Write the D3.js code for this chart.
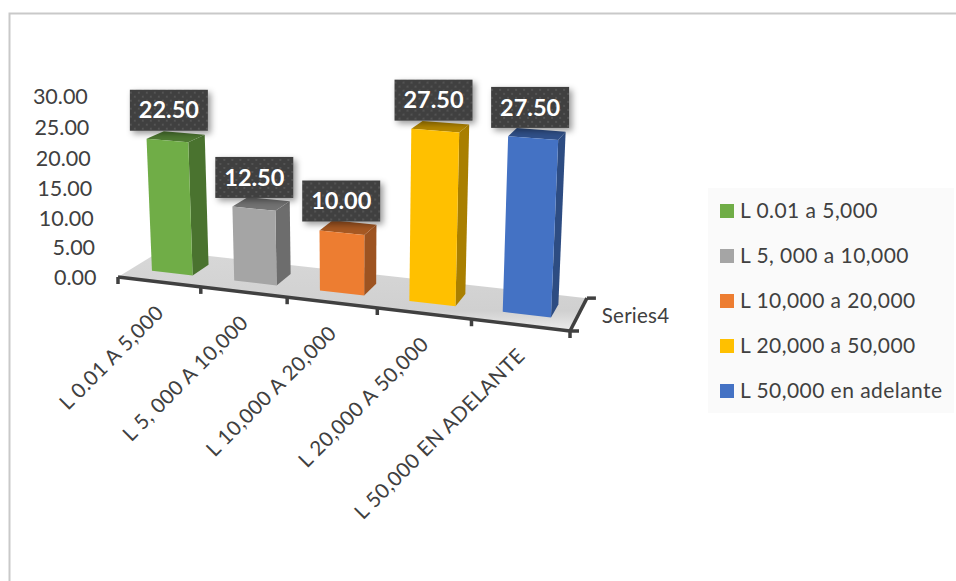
<!DOCTYPE html>
<html>
<head>
<meta charset="utf-8">
<script src="https://cdn.jsdelivr.net/npm/d3@7"></script>
<style>
  html, body { margin: 0; padding: 0; background: #fff; }
  svg { display: block; font-family: Lato, sans-serif; }
</style>
</head>
<body>
<div id="container"></div>
<script>
let w = 956;
let h = 581;

// chart data
let categories = ["L 0.01 A 5,000", "L 5, 000 A 10,000", "L 10,000 A 20,000", "L 20,000 A 50,000", "L 50,000 EN ADELANTE"];
let values = [22.5, 12.5, 10, 27.5, 27.5];
let legendLabels = ["L 0.01 a 5,000", "L 5, 000 a 10,000", "L 10,000 a 20,000", "L 20,000 a 50,000", "L 50,000 en adelante"];
let colors = ["#70AD47", "#A5A5A5", "#ED7D31", "#FFC000", "#4472C4"];
let yTicks = [0, 5, 10, 15, 20, 25, 30];
let seriesName = "Series4";

// scales work in "world" units: u along the front axis, v into the depth, z upwards
let uScale = d3.scaleBand().domain(categories).range([0, 1]).paddingInner(0.5).paddingOuter(0.25);
let zScale = d3.scaleLinear().domain([0, 30]).range([0, 1]);
let vFront = 0.31;
let vBack = 0.71;

// perspective camera, one column for each world direction
let camU = [393.3, 19.9, -0.103];
let camV = [53.5, -10, 0.0653];
let camZ = [-12.5, -183.5, -0.0354];
let camO = [118, 277, 1];

function project(u, v, z){
  let px = camO[0] + camU[0]*u + camV[0]*v + camZ[0]*z;
  let py = camO[1] + camU[1]*u + camV[1]*v + camZ[1]*z;
  let pw = camO[2] + camU[2]*u + camV[2]*v + camZ[2]*z;
  return [px/pw, py/pw];
}

let line = d3.line();
function poly(points){
  return line(points) + "Z";
}

let viz = d3.select("#container")
  .append("svg")
    .attr("width", w)
    .attr("height", h)
;

let defs = viz.append("defs");

let floorGrad = defs.append("linearGradient")
  .attr("id", "floorGrad")
  .attr("x1", 0).attr("y1", 0).attr("x2", 0).attr("y2", 1);
floorGrad.append("stop").attr("offset", "0").attr("stop-color", "#d8d8d8");
floorGrad.append("stop").attr("offset", "0.75").attr("stop-color", "#d0d0d0");
floorGrad.append("stop").attr("offset", "1").attr("stop-color", "#ececec");

let dots = defs.append("pattern")
  .attr("id", "dots")
  .attr("width", 8).attr("height", 8)
  .attr("patternUnits", "userSpaceOnUse");
dots.append("rect").attr("width", 8).attr("height", 8).attr("fill", "#404040");
dots.append("circle").attr("cx", 2).attr("cy", 2).attr("r", 0.9).attr("fill", "#5c5c5c");
dots.append("circle").attr("cx", 6).attr("cy", 6).attr("r", 0.9).attr("fill", "#5c5c5c");

let shadow = defs.append("filter")
  .attr("id", "shadow")
  .attr("x", "-20%").attr("y", "-20%").attr("width", "150%").attr("height", "150%");
shadow.append("feDropShadow")
  .attr("dx", 3).attr("dy", 3).attr("stdDeviation", 3)
  .attr("flood-color", "#000").attr("flood-opacity", 0.4);

// chart area border, only top and left show
viz.append("path")
  .attr("d", "M9.5,581V13.5H956")
  .attr("fill", "none")
  .attr("stroke", "#c9c9c9")
  .attr("stroke-width", 2);

// floor
viz.append("path")
  .attr("d", poly([project(0,0,0), project(1,0,0), project(1,1,0), project(0,1,0)]))
  .attr("fill", "url(#floorGrad)");

// axes
let axisColor = "#404040";
let axisGroup = viz.append("g")
  .attr("fill", "none")
  .attr("stroke", axisColor)
  .attr("stroke-width", 3.5);

axisGroup.append("path").attr("d", line([project(0,0,0), project(1,0,0)]));
axisGroup.append("path").attr("d", line([project(1,0,0), project(1,1,0)]));

let step = uScale.step();
d3.range(6).forEach(function(i){
  let p = project(i*step, 0, 0);
  axisGroup.append("path").attr("d", line([p, [p[0], p[1]+7]]));
});
[0, 1].forEach(function(v){
  let p = project(1, v, 0);
  axisGroup.append("path").attr("d", line([p, [p[0]+9, p[1]]]));
});

// y axis labels
viz.append("g").selectAll("text").data(yTicks).enter()
  .append("text")
    .text(function(d){ return d3.format(".2f")(d); })
    .attr("x", function(d){ return project(0, 0, zScale(d))[0] - 21.5; })
    .attr("y", function(d){ return project(0, 0, zScale(d))[1]; })
    .attr("dy", "0.35em")
    .attr("text-anchor", "end")
    .attr("font-size", 21.5)
    .attr("fill", "#404040");

// bars
let bars = viz.append("g").selectAll("g").data(categories).enter().append("g");

bars.each(function(d, i){
  let u0 = uScale(d);
  let u1 = u0 + uScale.bandwidth();
  let z = zScale(values[i]);
  let base = d3.rgb(colors[i]);
  let g = d3.select(this);

  // side
  g.append("path")
    .attr("d", poly([project(u1,vFront,0), project(u1,vBack,0), project(u1,vBack,z), project(u1,vFront,z)]))
    .attr("fill", base.darker(1.15));
  // top
  g.append("path")
    .attr("d", poly([project(u0,vFront,z), project(u1,vFront,z), project(u1,vBack,z), project(u0,vBack,z)]))
    .attr("fill", base.darker(1));
  // front
  g.append("path")
    .attr("d", poly([project(u0,vFront,0), project(u1,vFront,0), project(u1,vFront,z), project(u0,vFront,z)]))
    .attr("fill", base);
});

// category labels
viz.append("g").selectAll("text").data(categories).enter()
  .append("text")
    .text(function(d){ return d; })
    .attr("transform", function(d){
      let p = project(uScale(d) + uScale.bandwidth()/2, 0, 0);
      return "translate(" + (p[0]+1) + "," + (p[1]+27) + ") rotate(-45)";
    })
    .attr("dy", "0.35em")
    .attr("text-anchor", "end")
    .attr("font-size", 20.5)
    .attr("letter-spacing", 0.45)
    .attr("fill", "#404040");

// depth axis label
let seriesPos = project(1, 0.5, 0);
viz.append("text")
  .text(seriesName)
  .attr("x", seriesPos[0] + 23)
  .attr("y", seriesPos[1] + 2)
  .attr("dy", "0.35em")
  .attr("font-size", 20.5)
  .attr("letter-spacing", 0.25)
  .attr("fill", "#404040");

// data labels
let labelW = 78;
let labelH = 41;
let labels = viz.append("g").selectAll("g").data(categories).enter()
  .append("g")
    .attr("transform", function(d, i){
      let p = project(uScale(d) + uScale.bandwidth()/2, 0.51, zScale(values[i]));
      return "translate(" + (p[0]-7) + "," + (p[1]-6) + ")";
    });

labels.append("rect")
  .attr("x", -labelW/2)
  .attr("y", -labelH)
  .attr("width", labelW)
  .attr("height", labelH)
  .attr("fill", "url(#dots)")
  .attr("filter", "url(#shadow)");

labels.append("text")
  .text(function(d, i){ return d3.format(".2f")(values[i]); })
  .attr("y", -labelH/2)
  .attr("dy", "0.35em")
  .attr("text-anchor", "middle")
  .attr("font-size", 23.5)
  .attr("font-weight", "bold")
  .attr("fill", "#fff");

// legend
let legendScale = d3.scalePoint().domain(legendLabels).range([211, 391]);
viz.append("rect")
  .attr("x", 708).attr("y", 188)
  .attr("width", 246).attr("height", 225)
  .attr("fill", "#fafafa");

let legendItems = viz.append("g").selectAll("g").data(legendLabels).enter()
  .append("g")
    .attr("transform", function(d){ return "translate(720," + legendScale(d) + ")"; });

legendItems.append("rect")
  .attr("y", -7)
  .attr("width", 14)
  .attr("height", 14)
  .attr("fill", function(d, i){ return colors[i]; });

legendItems.append("text")
  .text(function(d){ return d; })
  .attr("x", 20)
  .attr("dy", "0.35em")
  .attr("font-size", 21)
  .attr("letter-spacing", 0.45)
  .attr("fill", "#404040");
</script>
</body>
</html>
